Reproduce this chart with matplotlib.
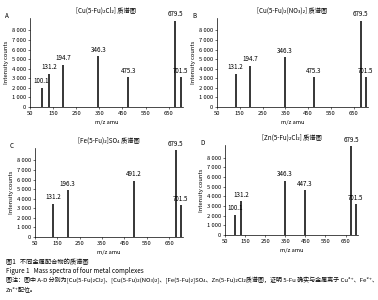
import numpy as np
import matplotlib.pyplot as plt

plt.rcParams['font.family'] = ['Noto Sans CJK SC', 'DejaVu Sans']

# данные пиков (m/z и интенсивность)
mz_a = [100.1, 131.2, 194.7, 346.3, 475.3, 679.5, 701.5]
int_a = [2000, 3500, 4400, 5300, 3100, 9000, 3100]
mz_b = [131.2, 194.7, 346.3, 475.3, 679.5, 701.5]
int_b = [3500, 4300, 5200, 3100, 9000, 3100]
mz_c = [131.2, 196.3, 491.2, 679.5, 701.5]
int_c = [3500, 4900, 5900, 9100, 3300]
mz_d = [100.1, 131.2, 346.3, 447.3, 679.5, 701.5]
int_d = [2100, 3500, 5600, 4600, 9200, 3200]

titles = ['[Cu(5-Fu)₂Cl₂] 质谱图', '[Cu(5-Fu)₂(NO₃)₂] 质谱图',
          '[Fe(5-Fu)₂]SO₄ 质谱图', '[Zn(5-Fu)₂Cl₂] 质谱图']
letters = ['A', 'B', 'C', 'D']
x_ticks = [50, 150, 250, 350, 450, 550, 650]
y_ticks = [0, 1000, 2000, 3000, 4000, 5000, 6000, 7000, 8000]

W, H = 378, 300
fig = plt.figure(figsize=(W / 100, H / 100), dpi=100)

# рамки осей в пикселях: left, right, top, bottom
boxes = [(30, 183, 18, 107), (217, 368, 18, 107),
         (35, 183, 148, 237), (225, 358, 145, 235)]
data = [(mz_a, int_a), (mz_b, int_b), (mz_c, int_c), (mz_d, int_d)]

for (l, r, t, b), (mz, inten), title, let in zip(boxes, data, titles, letters):
    ax = fig.add_axes([l / W, 1 - b / H, (r - l) / W, (b - t) / H])
    ax.vlines(mz, 0, inten, color='black', lw=1.1)
    for m, v in zip(mz, inten):
        ax.text(m, v + 250, f'{m:.1f}', ha='center', va='bottom', fontsize=4.5)
    ax.set_xlim(50, 712)
    ax.set_ylim(0, 9300)
    ax.set_xticks(x_ticks)
    ax.set_yticks(y_ticks)
    ax.set_yticklabels(['0'] + [f'{v // 1000} 000' for v in y_ticks[1:]])
    ax.tick_params(labelsize=4.2, length=1.5, width=0.4, pad=1.5)
    for s in ['top', 'right']:
        ax.spines[s].set_visible(False)
    for s in ['left', 'bottom']:
        ax.spines[s].set_linewidth(0.5)
    ax.set_xlabel('m/z amu', fontsize=4.2, labelpad=3)
    ax.set_ylabel('Intensity counts', fontsize=4.2, labelpad=2)
    ax.set_title(title, fontsize=4.5, pad=4)
    fig.text((l - 25) / W, 1 - (t - 6) / H, let, fontsize=4.5, va='top')

# подпись к рисунку
fig.text(6 / W, 1 - 262 / H, '图1   不同金属配合物的质谱图', fontsize=4.5, va='center')
fig.text(6 / W, 1 - 271 / H, 'Figure 1   Mass spectra of four metal complexes', fontsize=4.5, va='center')
fig.text(6 / W, 1 - 280 / H,
         '图注：图中 A-D 分别为[Cu(5-Fu)₂Cl₂]、[Cu(5-Fu)₂(NO₃)₂]、[Fe(5-Fu)₂]SO₄、Zn(5-Fu)₂Cl₂质谱图，证明 5-Fu 确实与金属离子 Cu²⁺、Fe²⁺、',
         fontsize=4.35, va='center')
fig.text(6 / W, 1 - 289 / H, 'Zn²⁺配位。', fontsize=4.35, va='center')

fig.savefig('out.png', dpi=100)
